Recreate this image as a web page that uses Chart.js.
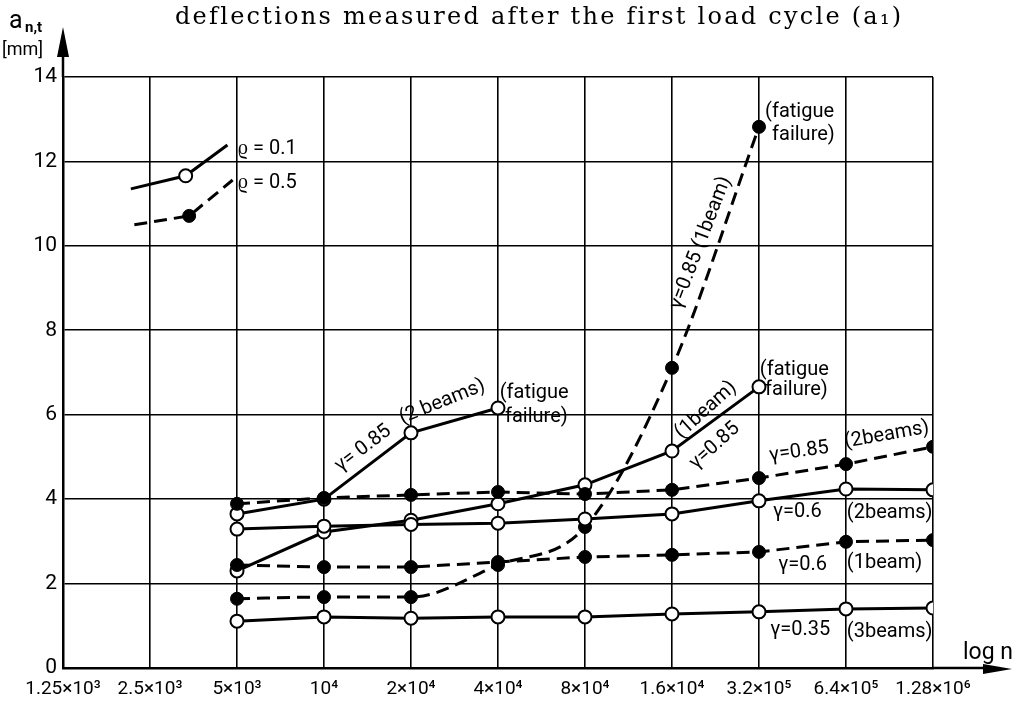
<!DOCTYPE html>
<html><head><meta charset="utf-8">
<script src="https://cdn.jsdelivr.net/npm/chart.js@4/dist/chart.umd.min.js"></script>
<style>html,body{margin:0;padding:0;background:#fff}#wrap{width:1015px;height:707px;position:relative}</style>
</head><body><div id="wrap"><canvas id="c"></canvas></div>
<script>
// ---- data ----
const xTickLabels = ['1.25×10³','2.5×10³','5×10³','10⁴','2×10⁴','4×10⁴','8×10⁴','1.6×10⁴','3.2×10⁵','6.4×10⁵','1.28×10⁶'];
const mainX = [2,3,4,5,6,7,8,9,10];           // positions of 5×10³ … 1.28×10⁶
const g085TwoSolid  = [3.65, 4.00, 5.57, 6.16, null, null, null, null, null];
const g085OneSolid  = [2.30, 3.22, 3.50, 3.89, 4.34, 5.14, 6.66, null, null];
const g085OneDashed = [1.64, 1.68, 1.68, 2.44, 3.34, 7.11, 12.82, null, null];
const g085TwoDashed = [3.89, 4.03, 4.10, 4.17, 4.12, 4.22, 4.50, 4.83, 5.24];
const g06Two        = [3.29, 3.36, 3.40, 3.43, 3.53, 3.65, 3.96, 4.24, 4.22];
const g06One        = [2.44, 2.39, 2.39, 2.51, 2.63, 2.68, 2.75, 2.99, 3.03];
const g035Three     = [1.11, 1.21, 1.18, 1.21, 1.21, 1.28, 1.33, 1.40, 1.42];
const rho01X = [0.78, 1.41, 1.89], rho01Y = [11.35, 11.66, 12.39];
const rho05X = [0.82, 1.45, 1.95], rho05Y = [10.50, 10.71, 11.56];
const titleText = 'deflections measured after the first load cycle (a₁)';

// ---- helpers ----
const pts = (xs, ys) => xs.map((x, i) => ({x, y: ys[i]})).filter(p => p.y !== null);
const solidOpen = (label, data) => ({label, data, borderColor:'#000', borderWidth:3,
  pointRadius:6.5, pointBackgroundColor:'#fff', pointBorderColor:'#000', pointBorderWidth:2, fill:false});
const dashedFilled = (label, data) => ({label, data, borderColor:'#000', borderWidth:3, borderDash:[13,7],
  pointRadius:6.5, pointBackgroundColor:'#000', pointBorderColor:'#000', pointBorderWidth:1, fill:false});

const datasets = [
  Object.assign(solidOpen('rho=0.1', pts(rho01X, rho01Y)), {pointRadius:[0,6.5,0]}),
  Object.assign(dashedFilled('rho=0.5', pts(rho05X, rho05Y)), {pointRadius:[0,6.5,0]}),
  solidOpen('g0.35 3beams', pts(mainX, g035Three)),
  dashedFilled('g0.6 1beam', pts(mainX, g06One)),
  solidOpen('g0.6 2beams', pts(mainX, g06Two)),
  dashedFilled('g0.85 2beams dashed', pts(mainX, g085TwoDashed)),
  Object.assign(dashedFilled('g0.85 1beam dashed', pts(mainX, g085OneDashed)), {cubicInterpolationMode:'monotone'}),
  solidOpen('g0.85 1beam', pts(mainX, g085OneSolid)),
  solidOpen('g0.85 2beams', pts(mainX, g085TwoSolid)),
];

// annotation texts, positioned in data coordinates
const notes = [
  {t:'ϱ = 0.1', x:2.01, y:12.30, a:'left'},
  {t:'ϱ = 0.5', x:2.01, y:11.49, a:'left'},
  {t:'γ= 0.85', x:3.45, y:5.20, a:'center', r:-37},
  {t:'(2 beams)', x:4.36, y:6.30, a:'center', r:-22},
  {t:'(fatigue', x:5.02, y:6.52, a:'left'},
  {t:'failure)', x:5.08, y:5.95, a:'left'},
  {t:'(fatigue', x:8.07, y:13.17, a:'left'},
  {t:'failure)', x:8.15, y:12.63, a:'left'},
  {t:'γ=0.85 (1beam)', x:7.33, y:10.07, a:'center', r:-69},
  {t:'(1beam)', x:7.39, y:6.11, a:'center', r:-42},
  {t:'γ=0.85', x:7.49, y:5.26, a:'center', r:-42},
  {t:'(fatigue', x:8.01, y:7.06, a:'left'},
  {t:'failure)', x:8.07, y:6.59, a:'left'},
  {t:'γ=0.85', x:8.46, y:5.12, a:'center', r:-8},
  {t:'(2beams)', x:9.47, y:5.52, a:'center', r:-10},
  {t:'γ=0.6', x:8.16, y:3.70, a:'left'},
  {t:'(2beams)', x:9.01, y:3.67, a:'left'},
  {t:'γ=0.6', x:8.22, y:2.44, a:'left'},
  {t:'(1beam)', x:9.01, y:2.49, a:'left'},
  {t:'γ=0.35', x:8.13, y:0.90, a:'left'},
  {t:'(3beams)', x:9.01, y:0.85, a:'left'},
];

const deco = {
  id:'deco',
  afterDatasetsDraw(chart){
    const {ctx, scales:{x, y}} = chart;
    ctx.save();
    ctx.fillStyle = '#000';
    ctx.font = '20px Roboto';
    ctx.textBaseline = 'middle';
    notes.forEach(n => {
      ctx.save();
      ctx.translate(x.getPixelForValue(n.x), y.getPixelForValue(n.y));
      if (n.r) ctx.rotate(n.r * Math.PI / 180);
      ctx.textAlign = n.a;
      ctx.fillText(n.t, 0, 0);
      ctx.restore();
    });
    ctx.restore();
  },
  afterDraw(chart){
    const {ctx, chartArea:ca} = chart;
    ctx.save();
    ctx.fillStyle = '#000'; ctx.strokeStyle = '#000'; ctx.lineWidth = 2.5;
    // y arrow
    ctx.beginPath(); ctx.moveTo(ca.left, ca.top); ctx.lineTo(ca.left, ca.top - 25); ctx.stroke();
    ctx.beginPath(); ctx.moveTo(ca.left, ca.top - 50); ctx.lineTo(ca.left - 6, ca.top - 20); ctx.lineTo(ca.left + 6, ca.top - 20); ctx.closePath(); ctx.fill();
    // x arrow
    ctx.beginPath(); ctx.moveTo(ca.right, ca.bottom); ctx.lineTo(ca.right + 55, ca.bottom); ctx.stroke();
    ctx.beginPath(); ctx.moveTo(ca.right + 79, ca.bottom + 1); ctx.lineTo(ca.right + 50, ca.bottom - 4); ctx.lineTo(ca.right + 50, ca.bottom + 6); ctx.closePath(); ctx.fill();
    // axis titles
    ctx.textBaseline = 'alphabetic'; ctx.textAlign = 'left';
    ctx.font = '23px Roboto';
    ctx.fillText('log n', 963, 659);
    ctx.font = '25px Roboto';
    ctx.fillText('a', 9, 28);
    ctx.font = 'bold 15px Roboto';
    ctx.fillText('n,t', 25, 32);
    ctx.font = '18px Roboto';
    ctx.fillText('[mm]', 2, 55);
    // title
    ctx.font = '24px "DejaVu Serif"';
    const w0 = ctx.measureText(titleText).width;
    const chars = [...titleText].length;
    const target = 725;
    ctx.letterSpacing = ((target - w0) / (chars - 1)).toFixed(2) + 'px';
    ctx.textAlign = 'left';
    ctx.fillText(titleText, 175, 24);
    ctx.restore();
  }
};

new Chart(document.getElementById('c'), {
  type:'line',
  data:{datasets},
  options:{
    responsive:true, maintainAspectRatio:false, animation:false,
    layout:{padding:{left:0, right:82, top:77, bottom:0}},
    plugins:{legend:{display:false}, tooltip:{enabled:false}, title:{display:false}},
    elements:{line:{tension:0}},
    scales:{
      x:{type:'linear', min:0, max:10,
        afterFit:s => { s.height = 39; },
        grid:{color:'#000', lineWidth:1.6, drawTicks:false},
        border:{color:'#000', width:2.5},
        ticks:{stepSize:1, autoSkip:false, maxRotation:0, padding:10, color:'#000',
          font:{family:'Roboto', size:19},
          callback:v => xTickLabels[v] ?? ''}},
      y:{type:'linear', min:0, max:14,
        afterFit:s => { s.width = 63; },
        grid:{color:'#000', lineWidth:1.6, drawTicks:false},
        border:{color:'#000', width:2.5},
        ticks:{stepSize:2, padding:6, color:'#000', font:{family:'Roboto', size:21}}}
    }
  },
  plugins:[deco]
});
</script></body></html>
